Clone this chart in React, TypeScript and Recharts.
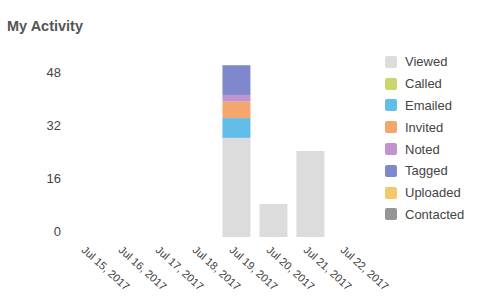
import { Bar, BarChart, Legend, XAxis, YAxis } from "recharts";

const dates = [
  "Jul 15, 2017",
  "Jul 16, 2017",
  "Jul 17, 2017",
  "Jul 18, 2017",
  "Jul 19, 2017",
  "Jul 20, 2017",
  "Jul 21, 2017",
  "Jul 22, 2017",
];
const viewed = [0, 0, 0, 0, 30, 10, 26, 0];
const called = [0, 0, 0, 0, 0, 0, 0, 0];
const emailed = [0, 0, 0, 0, 6, 0, 0, 0];
const invited = [0, 0, 0, 0, 5, 0, 0, 0];
const noted = [0, 0, 0, 0, 2, 0, 0, 0];
const tagged = [0, 0, 0, 0, 9, 0, 0, 0];
const uploaded = [0, 0, 0, 0, 0, 0, 0, 0];
const contacted = [0, 0, 0, 0, 0, 0, 0, 0];
const yTicks = [0, 16, 32, 48];

const series = [
  { key: "Viewed", values: viewed, color: "#dcdcdc" },
  { key: "Called", values: called, color: "#cdd56e" },
  { key: "Emailed", values: emailed, color: "#63bde9" },
  { key: "Invited", values: invited, color: "#f5a66d" },
  { key: "Noted", values: noted, color: "#c293cf" },
  { key: "Tagged", values: tagged, color: "#7f88cc" },
  { key: "Uploaded", values: uploaded, color: "#f3c86a" },
  { key: "Contacted", values: contacted, color: "#959595" },
];

const data = dates.map((date, i) => {
  const row: Record<string, string | number> = { date };
  series.forEach((s) => (row[s.key] = s.values[i]));
  return row;
});

const font = "'Liberation Sans', Arial, sans-serif";

function DateTick({ x, y, payload }: any) {
  return (
    <g transform={`translate(${x - 5},${y + 3})`}>
      <text
        transform="rotate(42)"
        textAnchor="start"
        fontSize={11}
        fill="#444"
        fontFamily={font}
        dy={4}
      >
        {payload.value}
      </text>
    </g>
  );
}

function SideLegend() {
  return (
    <div style={{ fontFamily: font, fontSize: 13, color: "#444" }}>
      {series.map((s) => (
        <div
          key={s.key}
          style={{ display: "flex", alignItems: "center", height: 21.8 }}
        >
          <span
            style={{
              width: 12,
              height: 12,
              borderRadius: 2,
              background: s.color,
              marginRight: 8,
            }}
          />
          {s.key}
        </div>
      ))}
    </div>
  );
}

export default function App() {
  return (
    <div
      style={{
        position: "absolute",
        left: 0,
        top: 0,
        width: 484,
        height: 305,
        background: "#fff",
      }}
    >
      <div
        style={{
          position: "absolute",
          left: 7,
          top: 18,
          fontFamily: font,
          fontSize: 14.5,
          fontWeight: 700,
          color: "#555",
        }}
      >
        My Activity
      </div>
      <BarChart
        width={484}
        height={305}
        data={data}
        margin={{ top: 52, right: 19, bottom: 8, left: 8 }}
        barCategoryGap="12%"
      >
        <XAxis
          dataKey="date"
          axisLine={false}
          tickLine={false}
          height={60}
          interval={0}
          tick={<DateTick />}
        />
        <YAxis
          domain={[0, 56]}
          ticks={yTicks}
          axisLine={false}
          tickLine={false}
          width={62}
          tickMargin={3}
          tick={{ fontSize: 13, fill: "#444", fontFamily: font, dy: -6 }}
        />
        <Legend
          layout="vertical"
          align="right"
          verticalAlign="top"
          content={<SideLegend />}
          wrapperStyle={{ left: 385, top: 51, width: 99 }}
        />
        {series.map((s) => (
          <Bar
            key={s.key}
            dataKey={s.key}
            stackId="a"
            fill={s.color}
            isAnimationActive={false}
          />
        ))}
      </BarChart>
    </div>
  );
}
